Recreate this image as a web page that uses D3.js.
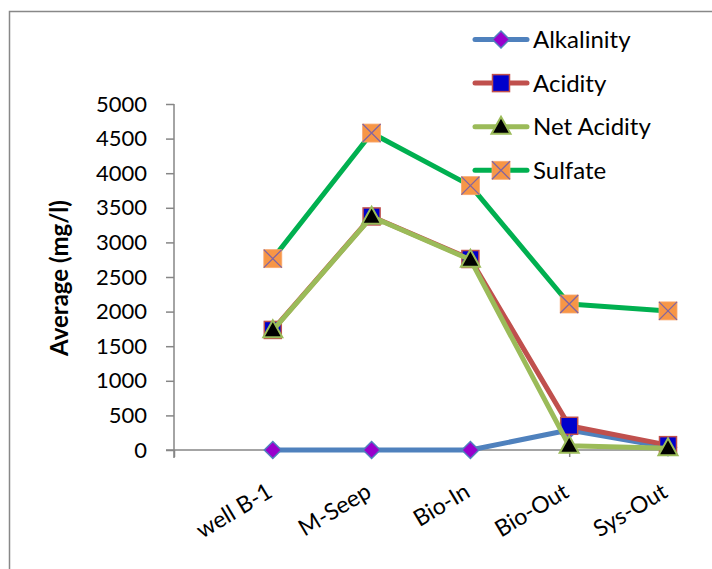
<!DOCTYPE html>
<html><head><meta charset="utf-8">
<script src="https://cdn.jsdelivr.net/npm/d3@7"></script>
<style>
html,body{margin:0;padding:0;background:#fff;}
text{font-family:Lato,"Open Sans",sans-serif;fill:#000;}
</style></head>
<body>
<svg id="chart" width="712" height="569"></svg>
<script>
const categories = ["well B-1","M-Seep","Bio-In","Bio-Out","Sys-Out"];
const alkalinity = [0, 0, 0, 290, 40];
const acidity = [1735, 3375, 2760, 350, 70];
const netAcidity = [1730, 3370, 2750, 60, 25];
const sulfate = [2765, 4580, 3820, 2110, 2010];
const yTicks = [0,500,1000,1500,2000,2500,3000,3500,4000,4500,5000];
const seriesNames = ["Alkalinity","Acidity","Net Acidity","Sulfate"];

const series = [
  {name: seriesNames[0], values: alkalinity, color:"#4F81BD", marker:"diamond"},
  {name: seriesNames[1], values: acidity, color:"#C0504D", marker:"square"},
  {name: seriesNames[2], values: netAcidity, color:"#9BBB59", marker:"triangle"},
  {name: seriesNames[3], values: sulfate, color:"#00B050", marker:"xsquare"}
];

const svg = d3.select("#chart");
// outer frame
svg.append("rect").attr("x",9.5).attr("y",11.5).attr("width",720).attr("height",580)
  .attr("fill","none").attr("stroke","#888").attr("stroke-width",1.5);

const x = d3.scaleLinear().domain([0,5]).range([174,668]);
const y = d3.scaleLinear().domain([0,5000]).range([450,104]);
const axisColor = "#868686";

// Y axis
const yAxis = svg.append("g").attr("transform","translate(174,0)")
  .call(d3.axisLeft(y).tickValues(yTicks).tickSize(8).tickPadding(19).tickFormat(d3.format("d")));
yAxis.select(".domain").attr("stroke",axisColor).attr("stroke-width",1.5).attr("d","M0,104V458");
yAxis.selectAll(".tick line").attr("stroke",axisColor).attr("stroke-width",1.5);
yAxis.selectAll(".tick text").attr("font-size","22px").attr("font-family","Lato,sans-serif").attr("fill","#000");

// X axis
const xAxis = svg.append("g").attr("transform",`translate(0,${y(0)})`)
  .call(d3.axisBottom(x).tickValues([0,4]).tickSize(7).tickFormat(""));
xAxis.select(".domain").attr("stroke",axisColor).attr("stroke-width",1.5).attr("d",`M166,0H${x(5)}`);
xAxis.selectAll(".tick line").attr("stroke",axisColor).attr("stroke-width",1.5);

// category labels
svg.append("g").selectAll("text").data(categories).join("text")
  .attr("transform",(d,i)=>`translate(${x(i+1)-3},${y(0)+39}) rotate(-31)`)
  .attr("text-anchor","end").attr("dy","0.35em")
  .attr("font-size","23px").text(d=>d);

// y title
svg.append("text").attr("transform","translate(60,278) rotate(-90)")
  .attr("text-anchor","middle").attr("dy","0.35em")
  .attr("font-size","24px").attr("font-weight","bold").text("Average (mg/l)");

function drawMarker(g, type, cx, cy){
  if(type==="diamond"){
    g.append("path").attr("d",`M${cx},${cy-8.5}L${cx+8.5},${cy}L${cx},${cy+8.5}L${cx-8.5},${cy}Z`)
      .attr("fill","#9900CC").attr("stroke","#4F81BD").attr("stroke-width",1.5);
  } else if(type==="square"){
    g.append("rect").attr("x",cx-8.5).attr("y",cy-8.5).attr("width",17).attr("height",17)
      .attr("fill","#0000CC").attr("stroke","#C0504D").attr("stroke-width",1.5);
  } else if(type==="triangle"){
    g.append("path").attr("d",`M${cx},${cy-10}L${cx+9.5},${cy+7}L${cx-9.5},${cy+7}Z`)
      .attr("fill","#000").attr("stroke","#9BBB59").attr("stroke-width",2);
  } else {
    g.append("rect").attr("x",cx-9).attr("y",cy-9).attr("width",18).attr("height",18)
      .attr("fill","#F79646").attr("stroke","#F8A870").attr("stroke-width",0.8);
    g.append("path").attr("d",`M${cx-9},${cy-9}L${cx+9},${cy+9}M${cx+9},${cy-9}L${cx-9},${cy+9}`)
      .attr("stroke","#8064A2").attr("stroke-width",1.3);
  }
}

const line = d3.line().x((d,i)=>x(i+1)).y(d=>y(d));
series.forEach(s=>{
  const g = svg.append("g");
  g.append("path").attr("d",line(s.values)).attr("fill","none")
    .attr("stroke",s.color).attr("stroke-width",5).attr("stroke-linejoin","round");
  s.values.forEach((v,i)=>drawMarker(g, s.marker, x(i+1), y(v)));
});

// legend
const legend = svg.append("g");
series.forEach((s,i)=>{
  const ly = 39.5 + i*43.6;
  const g = legend.append("g");
  g.append("line").attr("x1",475).attr("x2",527).attr("y1",ly).attr("y2",ly)
    .attr("stroke",s.color).attr("stroke-width",5).attr("stroke-linecap","round");
  drawMarker(g, s.marker, 501, ly);
  g.append("text").attr("x",533).attr("y",ly).attr("dy","0.35em")
    .attr("font-size","24px").text(s.name);
});
</script>
</body></html>
